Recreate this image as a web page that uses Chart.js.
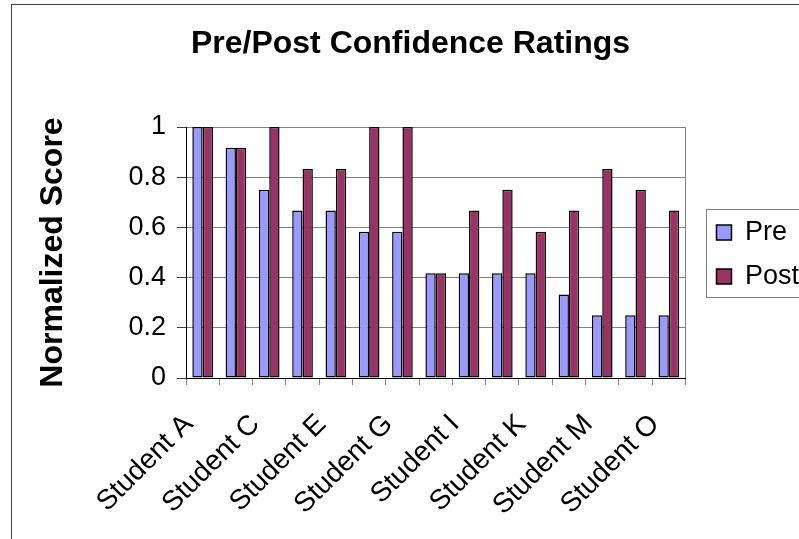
<!DOCTYPE html>
<html>
<head>
<meta charset="utf-8">
<script src="https://cdn.jsdelivr.net/npm/chart.js@4/dist/chart.umd.min.js"></script>
<style>
  html, body { margin: 0; padding: 0; background: #fff; overflow: hidden; }
  canvas { display: block; }
</style>
</head>
<body>
<canvas id="confidenceChart" width="799" height="539"></canvas>
<script>
const students = [
    'Student A', 'Student B', 'Student C', 'Student D', 'Student E',
    'Student F', 'Student G', 'Student H', 'Student I', 'Student J',
    'Student K', 'Student L', 'Student M', 'Student N', 'Student O',
];
const preScores = [1, 0.917, 0.75, 0.667, 0.667, 0.583, 0.583, 0.417, 0.417, 0.417, 0.417, 0.333, 0.25, 0.25, 0.25];
const postScores = [1, 0.917, 1, 0.833, 0.833, 1, 1, 0.417, 0.667, 0.75, 0.583, 0.667, 0.833, 0.75, 0.667];
const yTicks = [0, 0.2, 0.4, 0.6, 0.8, 1];

const FONT = '"Liberation Sans", Arial, sans-serif';

// frame, title, plot border and legend box (Excel style)
const excelFrame = {
    id: 'excelFrame',
    afterLayout(chart) {
        const lg = chart.legend;
        const a = chart.chartArea;
        const dx = a.right + 14 - lg.left;
        lg.left += dx;
        lg.right += dx;
        lg.top = a.top + 2;
        lg.bottom = a.bottom + 2;
    },
    beforeDatasetsDraw(chart) {
        const ctx = chart.ctx;
        const a = chart.chartArea;
        ctx.save();
        ctx.strokeStyle = '#808080';
        ctx.lineWidth = 1;
        ctx.beginPath();
        ctx.moveTo(Math.round(a.right) + 0.5, a.top);
        ctx.lineTo(Math.round(a.right) + 0.5, a.bottom);
        ctx.stroke();
        ctx.restore();
    },
    afterDraw(chart) {
        const ctx = chart.ctx;
        ctx.save();
        ctx.strokeStyle = '#404040';
        ctx.lineWidth = 1;
        ctx.strokeRect(11.5, 4.5, 820, 560);

        ctx.fillStyle = '#000';
        ctx.font = 'bold 32px ' + FONT;
        ctx.textAlign = 'center';
        ctx.textBaseline = 'alphabetic';
        ctx.fillText('Pre/Post Confidence Ratings', 410.5, 53);

        const lg = chart.legend;
        const pad = lg.options.labels.padding;
        const n = lg.legendItems.length;
        const step = lg.columnSizes[0].height / n;
        const y0 = (lg.top + pad + lg.bottom - lg.columnSizes[0].height) / 2 + step / 2 - pad / 2;
        const y1 = y0 + step * (n - 1);
        ctx.strokeStyle = '#808080';
        ctx.strokeRect(Math.round(lg.left + pad - 10) + 0.5, Math.round(y0 - 24) + 0.5, 200, Math.round(y1 - y0 + 44));
        ctx.restore();
    },
};

new Chart(document.getElementById('confidenceChart'), {
    type: 'bar',
    data: {
        labels: students,
        datasets: [
            {
                label: 'Pre',
                data: preScores,
                backgroundColor: '#9999FF',
                borderColor: '#000000',
                borderWidth: 1.5,
                borderSkipped: false,
            },
            {
                label: 'Post',
                data: postScores,
                backgroundColor: '#993366',
                borderColor: '#000000',
                borderWidth: 1.5,
                borderSkipped: false,
            },
        ],
    },
    options: {
        responsive: false,
        animation: false,
        layout: {
            padding: { top: 127, right: 4, bottom: 0, left: 0 },
        },
        datasets: {
            bar: {
                categoryPercentage: 0.62,
                barPercentage: 1,
            },
        },
        plugins: {
            title: { display: false },
            tooltip: { enabled: false },
            legend: {
                position: 'right',
                labels: {
                    color: '#000',
                    font: { family: FONT, size: 27 },
                    boxWidth: 15,
                    boxHeight: 15,
                    padding: 17,
                },
            },
        },
        scales: {
            x: {
                afterFit: s => { s.height = 161; },
                grid: {
                    offset: true,
                    drawOnChartArea: false,
                    tickLength: 7,
                    tickColor: '#808080',
                },
                border: { color: '#000', width: 1 },
                ticks: {
                    autoSkip: false,
                    minRotation: 45,
                    maxRotation: 45,
                    labelOffset: -14,
                    padding: 23,
                    color: '#000',
                    font: { family: FONT, size: 28 },
                    callback: (v, i) => (i % 2 === 0 ? students[i] : ''),
                },
            },
            y: {
                min: 0,
                max: 1,
                afterFit: s => { s.width = 186; },
                afterBuildTicks: s => { s.ticks = yTicks.map(v => ({ value: v })); },
                grid: {
                    color: '#808080',
                    tickColor: '#404040',
                    tickLength: 9,
                },
                border: { color: '#000', width: 1 },
                ticks: {
                    padding: 11,
                    color: '#000',
                    font: { family: FONT, size: 27 },
                    callback: v => String(v),
                },
                title: {
                    display: true,
                    text: 'Normalized Score',
                    color: '#000',
                    font: { family: FONT, size: 32, weight: 'bold' },
                    padding: { top: 34, bottom: 0 },
                },
            },
        },
    },
    plugins: [excelFrame],
});
</script>
</body>
</html>
